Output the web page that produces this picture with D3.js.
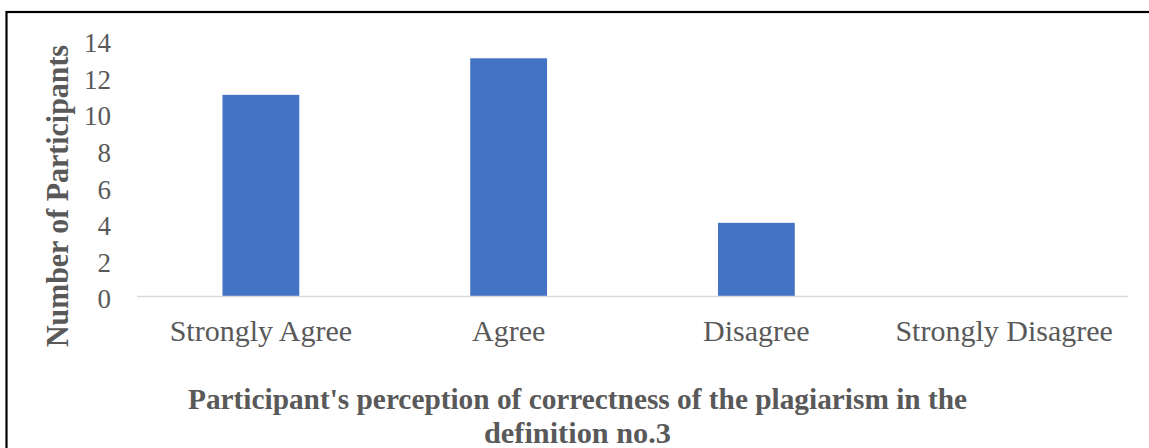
<!DOCTYPE html>
<html>
<head>
<meta charset="utf-8">
<script src="https://cdn.jsdelivr.net/npm/d3@7/dist/d3.min.js"></script>
<style>
  html, body { margin: 0; padding: 0; background: #ffffff; }
  svg { display: block; }
</style>
</head>
<body>
<svg id="chart" width="1149" height="448"></svg>
<script>
// ---- data ----
const categories = ["Strongly Agree", "Agree", "Disagree", "Strongly Disagree"];
const participants = [11, 13, 4, 0];
const yTicks = [0, 2, 4, 6, 8, 10, 12, 14];
const yAxisTitle = "Number of Participants";
const xAxisTitleLines = ["Participant's perception of correctness of the plagiarism in the", "definition no.3"];

// ---- layout ----
const W = 1149, H = 448;
const plot = { left: 137, right: 1128, top: 40, bottom: 296 };
const textColor = "#595959";
const serif = "'Liberation Serif', 'Times New Roman', serif";

const svg = d3.select("#chart");

// frame (document border, extends beyond the window on the right/bottom)
svg.append("rect")
  .attr("x", 6.5).attr("y", 12)
  .attr("width", W + 20).attr("height", H + 20)
  .attr("fill", "none").attr("stroke", "#000").attr("stroke-width", 2.2);

const x = d3.scaleBand()
  .domain(categories)
  .range([plot.left, plot.right])
  .paddingInner(0.69)
  .paddingOuter(0.345);

const y = d3.scaleLinear()
  .domain([0, 14])
  .range([plot.bottom, plot.top]);

// bars
svg.append("g").selectAll("rect")
  .data(categories.map((c, i) => ({ c, v: participants[i] })))
  .join("rect")
  .attr("x", d => x(d.c))
  .attr("y", d => y(d.v))
  .attr("width", x.bandwidth())
  .attr("height", d => y(0) - y(d.v))
  .attr("fill", "#4472C4");

// y axis (labels only)
const yAxis = d3.axisLeft(y).tickValues(yTicks).tickSize(0).tickPadding(0).tickFormat(d3.format("d"));
const yg = svg.append("g").attr("transform", `translate(111,0)`).call(yAxis);
yg.select(".domain").remove();
yg.selectAll("text")
  .attr("font-family", serif).attr("font-size", 27)
  .attr("fill", textColor).attr("dy", "0.36em").attr("y", 2);

// x axis
const xAxis = d3.axisBottom(x).tickSize(0).tickPadding(0);
const xg = svg.append("g").attr("transform", `translate(0,${plot.bottom})`).call(xAxis);
xg.select(".domain").attr("stroke", "#D9D9D9").attr("stroke-width", 1.5)
  .attr("d", `M${plot.left},0.5H${plot.right}`);
xg.selectAll("text")
  .attr("font-family", serif).attr("font-size", 30)
  .attr("fill", textColor).attr("dy", 0).attr("y", 45);

// y axis title
svg.append("text")
  .attr("transform", `translate(68,${196}) rotate(-90)`)
  .attr("text-anchor", "middle")
  .attr("font-family", serif).attr("font-weight", "bold").attr("font-size", 31)
  .attr("fill", textColor)
  .attr("textLength", 302).attr("lengthAdjust", "spacingAndGlyphs")
  .text(yAxisTitle);

// x axis title
const lineWidths = [779, 187];
svg.append("g").selectAll("text")
  .data(xAxisTitleLines)
  .join("text")
  .attr("x", 577.5)
  .attr("y", (d, i) => 409 + i * 34)
  .attr("text-anchor", "middle")
  .attr("font-family", serif).attr("font-weight", "bold").attr("font-size", 30)
  .attr("fill", textColor)
  .attr("textLength", (d, i) => lineWidths[i]).attr("lengthAdjust", "spacingAndGlyphs")
  .text(d => d);
</script>
</body>
</html>
